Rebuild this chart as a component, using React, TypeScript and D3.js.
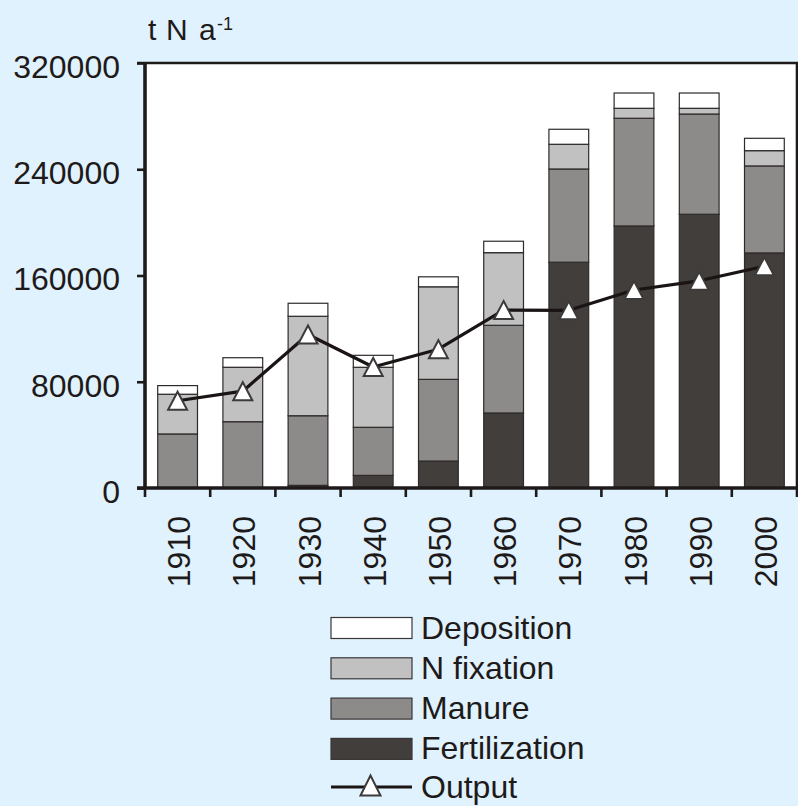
import * as d3 from "d3";
import { useEffect, useRef } from "react";

const years = ["1910", "1920", "1930", "1940", "1950", "1960", "1970", "1980", "1990", "2000"];
const fertilization = [0, 0, 2000, 9500, 20300, 56500, 170000, 197300, 206100, 177000];
const manure = [40700, 49900, 52400, 36200, 61500, 66000, 70200, 81100, 75500, 65500];
const nFixation = [29900, 41000, 74900, 45200, 69700, 54700, 18600, 7500, 4300, 11500];
const deposition = [6500, 7200, 9800, 9000, 7500, 8600, 11300, 11500, 11500, 9300];
const output = [65700, 72900, 115600, 91100, 104500, 134000, 133800, 149100, 156000, 167000];
const yTicks = [0, 80000, 160000, 240000, 320000];

const seriesKeys = ["fertilization", "manure", "nFixation", "deposition"];
const seriesColors: Record<string, string> = {
  fertilization: "#423e3b",
  manure: "#8c8b89",
  nFixation: "#c1c1c1",
  deposition: "#ffffff",
};
const legendItems = [
  { key: "deposition", label: "Deposition" },
  { key: "nFixation", label: "N fixation" },
  { key: "manure", label: "Manure" },
  { key: "fertilization", label: "Fertilization" },
];

const W = 798;
const H = 806;
const FONT = "'Liberation Sans', Arial, Helvetica, sans-serif";
const INK = "#1f1a1a";

// triangle marker centred on its bounding box (like Excel markers)
function triangle(cx: number, cy: number, w = 19, h = 18) {
  return `M${cx},${cy - h / 2}L${cx + w / 2},${cy + h / 2}L${cx - w / 2},${cy + h / 2}Z`;
}

export default function App() {
  const svgRef = useRef<SVGSVGElement>(null);

  useEffect(() => {
    if (!svgRef.current) return;
    const svg = d3.select(svgRef.current);
    svg.selectAll("*").remove();

    const left = 145;
    const right = 797;
    const top = 63;
    const bottom = 488;

    svg.append("rect").attr("width", W).attr("height", H).attr("fill", "#dff2fd");
    svg
      .append("rect")
      .attr("x", left)
      .attr("y", top)
      .attr("width", right - left)
      .attr("height", bottom - top)
      .attr("fill", "#ffffff");

    const x = d3.scaleBand<string>().domain(years).range([left, right]);
    const y = d3.scaleLinear().domain([0, 320000]).range([bottom, top]);

    const table = years.map((yr, i) => ({
      year: yr,
      fertilization: fertilization[i],
      manure: manure[i],
      nFixation: nFixation[i],
      deposition: deposition[i],
    }));
    const stacked = d3.stack<any>().keys(seriesKeys)(table);
    const barW = x.bandwidth() * 0.61;

    svg
      .append("g")
      .selectAll("g")
      .data(stacked)
      .join("g")
      .attr("fill", (s) => seriesColors[s.key])
      .selectAll("rect")
      .data((s) => s.filter((d) => d[1] - d[0] > 0))
      .join("rect")
      .attr("x", (d) => (x(d.data.year) ?? 0) + (x.bandwidth() - barW) / 2)
      .attr("y", (d) => y(d[1]))
      .attr("width", barW)
      .attr("height", (d) => y(d[0]) - y(d[1]))
      .attr("stroke", "#2e2a2a")
      .attr("stroke-width", 1.2);

    // plot border (top + right)
    svg
      .append("path")
      .attr("d", `M${left - 8},${top}H${right}V${bottom}`)
      .attr("fill", "none")
      .attr("stroke", INK)
      .attr("stroke-width", 2.6);

    // y axis
    const yAxis = svg
      .append("g")
      .attr("transform", `translate(${left},0)`)
      .call(d3.axisLeft(y).tickValues(yTicks).tickSize(8).tickPadding(17).tickFormat(d3.format("d")));
    yAxis.select(".domain").remove();
    yAxis.selectAll("line").attr("stroke", INK).attr("stroke-width", 2.6);
    yAxis
      .selectAll("text")
      .attr("dy", "0.45em")
      .attr("fill", INK)
      .style("font-family", FONT)
      .style("font-size", "32px");
    svg
      .append("line")
      .attr("x1", left)
      .attr("x2", left)
      .attr("y1", top - 1)
      .attr("y2", bottom + 1)
      .attr("stroke", INK)
      .attr("stroke-width", 3.6);

    // x axis with ticks between categories
    svg
      .append("line")
      .attr("x1", left - 8)
      .attr("x2", right + 1)
      .attr("y1", bottom)
      .attr("y2", bottom)
      .attr("stroke", INK)
      .attr("stroke-width", 3.4);
    const bounds = years.map((yr) => x(yr) ?? 0).concat([right]);
    svg
      .append("g")
      .selectAll("line")
      .data(bounds)
      .join("line")
      .attr("x1", (d) => d)
      .attr("x2", (d) => d)
      .attr("y1", bottom)
      .attr("y2", bottom + 9)
      .attr("stroke", INK)
      .attr("stroke-width", 2.6);
    svg
      .append("g")
      .selectAll("text")
      .data(years)
      .join("text")
      .attr("transform", (d) => `translate(${(x(d) ?? 0) + x.bandwidth() / 2 + 12.5},516) rotate(-90)`)
      .attr("text-anchor", "end")
      .attr("fill", INK)
      .style("font-family", FONT)
      .style("font-size", "32px")
      .text((d) => d);

    // axis unit
    const unit = svg
      .append("text")
      .attr("y", 40)
      .attr("fill", INK)
      .style("font-family", FONT)
      .style("font-size", "30px");
    unit.append("tspan").attr("x", 148).text("t");
    unit.append("tspan").attr("x", 166).text("N");
    unit.append("tspan").attr("x", 199).text("a");
    unit.append("tspan").attr("x", 217).attr("y", 30).style("font-size", "18px").text("-1");

    // output line
    const pts = years.map((yr, i) => [(x(yr) ?? 0) + x.bandwidth() / 2, y(output[i])] as [number, number]);
    svg
      .append("path")
      .attr("d", d3.line()(pts))
      .attr("fill", "none")
      .attr("stroke", "#1a1414")
      .attr("stroke-width", 3.2)
      .attr("stroke-linejoin", "round");
    svg
      .append("g")
      .selectAll("path")
      .data(pts)
      .join("path")
      .attr("d", (p) => triangle(p[0], p[1]))
      .attr("fill", "#ffffff")
      .attr("stroke", "#3d3a3a")
      .attr("stroke-width", 2);

    // legend
    const lg = svg.append("g");
    legendItems.forEach((item, i) => {
      const cy = 628 + i * 40.3;
      lg.append("rect")
        .attr("x", 331)
        .attr("y", cy - 10.5)
        .attr("width", 81)
        .attr("height", 21)
        .attr("fill", seriesColors[item.key])
        .attr("stroke", "#3a3636")
        .attr("stroke-width", 1.2);
      lg.append("text")
        .attr("x", 421)
        .attr("y", cy + 10.5)
        .attr("fill", INK)
        .style("font-family", FONT)
        .style("font-size", "32px")
        .text(item.label);
    });
    const oy = 787;
    lg.append("line")
      .attr("x1", 331)
      .attr("x2", 412)
      .attr("y1", oy)
      .attr("y2", oy)
      .attr("stroke", "#1a1414")
      .attr("stroke-width", 3);
    lg.append("path")
      .attr("d", triangle(370.5, 785.5, 20, 20))
      .attr("fill", "#ffffff")
      .attr("stroke", "#3d3a3a")
      .attr("stroke-width", 2);
    lg.append("text")
      .attr("x", 421)
      .attr("y", oy + 10.5)
      .attr("fill", INK)
      .style("font-family", FONT)
      .style("font-size", "32px")
      .text("Output");
  }, []);

  return (
    <svg
      ref={svgRef}
      width={W}
      height={H}
      style={{ position: "absolute", left: 0, top: 0, display: "block" }}
    />
  );
}
